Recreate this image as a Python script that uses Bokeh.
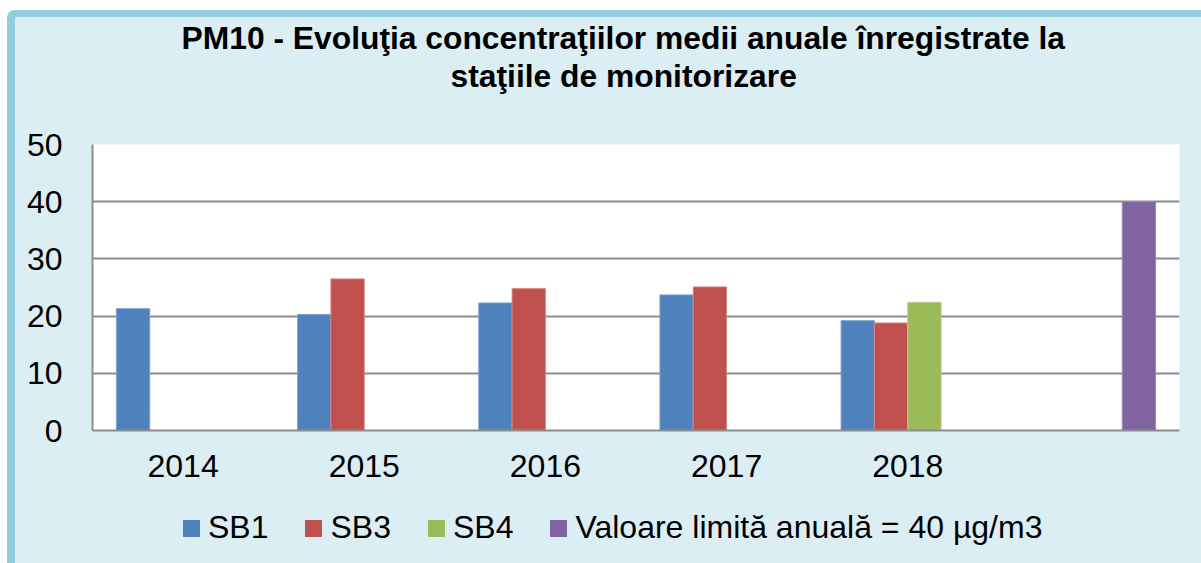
import numpy as np
from bokeh.plotting import figure
from bokeh.layouts import column
from bokeh.models import Range1d, FixedTicker, Legend, LegendItem, ColumnDataSource, Title
from bokeh.transform import dodge
from bokeh.embed import file_html
from bokeh.resources import INLINE

# ---- data ----
categories = ["2014", "2015", "2016", "2017", "2018", ""]
sb1 = [21.3, 20.3, 22.3, 23.7, 19.2, np.nan]
sb3 = [np.nan, 26.5, 24.8, 25.1, 18.8, np.nan]
sb4 = [np.nan, np.nan, np.nan, np.nan, 22.4, np.nan]
limita = [np.nan, np.nan, np.nan, np.nan, np.nan, 40.0]
series_names = ["SB1", "SB3", "SB4", "Valoare limită anuală = 40 µg/m3"]
colors = ["#4F81BD", "#C0504D", "#9BBB59", "#8064A2"]
edge_colors = ["#7DA2CF", "#D58583", "#B5CE86", "#9A86B8"]
y_ticks = [0, 10, 20, 30, 40, 50]
title_lines = ["PM10 - Evoluţia concentraţiilor medii anuale înregistrate la",
               "staţiile de monitorizare"]

FONT = "Liberation Sans"
BG = "#DBEEF4"
GRID = "#8C8C8C"

xpos = np.arange(len(categories)) + 0.5
src = ColumnDataSource(dict(x=xpos, s0=sb1, s1=sb3, s2=sb4, s3=limita))
x_range = Range1d(0, len(categories))

# ---- main chart ----
p = figure(frame_width=1087, frame_height=286,
           x_range=x_range, y_range=Range1d(0, 50),
           output_backend="svg", toolbar_location=None,
           min_border_left=77, min_border_right=22,
           min_border_top=126, min_border_bottom=71)
p.title = None
p.background_fill_color = "white"
p.border_fill_color = BG
p.outline_line_color = None

bw = 0.184
for i, name in enumerate(series_names):
    p.vbar(x=dodge("x", (i - 1.5) * bw), top=f"s{i}", width=bw, bottom=0,
           source=src, fill_color=colors[i], line_color=edge_colors[i], line_width=1)

# title: spacer closest to the frame, then line 2, then line 1
p.add_layout(Title(text=" ", text_font_size="1px", standoff=47.9), "above")
p.add_layout(Title(text=title_lines[1], align="left", offset=358, standoff=0,
                   text_font=FONT, text_font_style="bold", text_font_size="31.8px",
                   text_color="black"), "above")
p.add_layout(Title(text=title_lines[0], align="left", offset=89, standoff=0,
                   text_font=FONT, text_font_style="bold", text_font_size="31.8px",
                   text_color="black"), "above")

# axes
p.xaxis.ticker = FixedTicker(ticks=list(xpos[:5]))
p.xaxis.major_label_overrides = {float(x): c for x, c in zip(xpos[:5], categories[:5])}
p.yaxis.ticker = FixedTicker(ticks=y_ticks)
for ax in (p.xaxis[0], p.yaxis[0]):
    ax.axis_line_color = GRID
    ax.axis_line_width = 2
    ax.major_tick_line_color = None
    ax.minor_tick_line_color = None
    ax.major_tick_out = 0
    ax.major_tick_in = 0
    ax.major_label_text_font = FONT
    ax.major_label_text_font_size = "32px"
    ax.major_label_text_color = "black"
p.yaxis.major_label_standoff = 30
p.xaxis.major_label_standoff = 24

p.xgrid.grid_line_color = None
p.ygrid.grid_line_color = GRID
p.ygrid.grid_line_width = 2

# ---- legend strip (same series, drawn outside its visible y-range) ----
lf = figure(width=1186, height=63, x_range=x_range, y_range=Range1d(100, 110),
            output_backend="svg", toolbar_location=None, min_border=0,
            x_axis_type=None, y_axis_type=None)
lf.title = None
lf.background_fill_color = BG
lf.border_fill_color = BG
lf.outline_line_color = None
items = []
for i, name in enumerate(series_names):
    r = lf.vbar(x=dodge("x", (i - 1.5) * bw), top=f"s{i}", width=bw, bottom=0,
                source=src, fill_color=colors[i], line_color=colors[i], line_width=1)
    items.append(LegendItem(label=name, renderers=[r]))

legend = Legend(items=items, orientation="horizontal", location=(89, 18),
                glyph_width=20, glyph_height=20, label_standoff=7, spacing=35,
                label_text_font=FONT, label_text_font_size="32px", label_text_color="black",
                background_fill_alpha=0, border_line_color=None,
                padding=0, margin=0)
lf.add_layout(legend, "center")

layout = column(p, lf, spacing=0,
                styles={"margin-left": "7px", "margin-top": "10px",
                        "border-left": "8px solid #93CDDD", "border-top": "7px solid #93CDDD",
                        "border-top-left-radius": "8px", "background-color": BG})

open("out.html", "w").write(file_html(layout, INLINE))
